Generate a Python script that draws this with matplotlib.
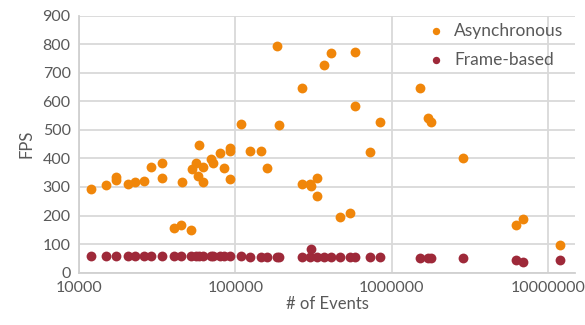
import matplotlib.pyplot as plt
from matplotlib.ticker import FixedLocator, NullLocator

# event counts and frame rates for the asynchronous pipeline
async_events = [11900, 14900, 17300, 17300, 20700, 22800, 25900, 28900, 34100, 34100,
                40500, 44900, 45400, 52000, 52500, 55700, 57400, 58200, 62100, 62100,
                69800, 72300, 79400, 85000, 92300, 92300, 92700, 108000, 124000, 145000,
                158000, 183000, 189000, 265000, 268000, 300000, 306000, 332000, 331000, 370000,
                410000, 469000, 543000, 579000, 579000, 729000, 837000, 1510000, 1710000, 1770000,
                2850000, 6170000, 6870000, 11900000]
async_fps = [293, 308, 336, 325, 310, 319, 322, 369, 383, 331,
             155, 166, 319, 148, 363, 383, 340, 447, 369, 318,
             398, 385, 418, 368, 437, 425, 327, 522, 427, 427,
             368, 793, 517, 648, 310, 310, 303, 331, 269, 727,
             768, 196, 208, 771, 583, 423, 529, 647, 541, 527,
             401, 167, 189, 96]

# same recordings, frame-based pipeline
frame_events = [11900, 14900, 17300, 20700, 22800, 25900, 28900, 34100, 40500, 44900,
                52000, 55700, 58200, 62100, 69800, 72300, 79400, 85000, 92300, 108000,
                124000, 145000, 158000, 183000, 189000, 265000, 300000, 306000, 332000, 370000,
                410000, 469000, 543000, 579000, 729000, 837000, 1510000, 1710000, 1770000, 2850000,
                6170000, 6870000, 11900000]
frame_fps = [57, 57, 57, 57, 57, 57, 57, 57, 57, 57,
             57, 57, 57, 57, 57, 57, 57, 57, 57, 57,
             56, 56, 56, 55, 56, 56, 56, 82, 56, 54,
             55, 56, 56, 55, 54, 54, 52, 52, 52, 52,
             45, 39, 44]

plt.rcParams['font.family'] = ['Lato', 'DejaVu Sans']
grey = '#595959'

fig = plt.figure(figsize=(5.85, 3.25), dpi=100)
ax = fig.add_axes([0.135, 0.161, 0.848, 0.791])

ax.scatter(async_events, async_fps, s=50, color='#F0860A', label='Asynchronous', zorder=3, linewidths=0)
ax.scatter(frame_events, frame_fps, s=50, color='#9E2939', label='Frame-based', zorder=3, linewidths=0)

ax.set_xscale('log')
ax.set_xlim(10000, 1.48e7)
ax.set_ylim(0, 900)
ax.xaxis.set_major_locator(FixedLocator([1e4, 1e5, 1e6, 1e7]))
ax.xaxis.set_minor_locator(NullLocator())
ax.set_xticklabels(['10000', '100000', '1000000', '10000000'])
ax.set_yticks(range(0, 1000, 100))

ax.grid(True, color='#D9D9D9', linewidth=1.3, zorder=0)
ax.set_axisbelow(True)
for side in ['top', 'right']:
    ax.spines[side].set_visible(False)
for side in ['left', 'bottom']:
    ax.spines[side].set_color('#D0D0D0')
    ax.spines[side].set_linewidth(1.3)
ax.tick_params(length=0, labelsize=11.5, labelcolor=grey, pad=6)

ax.set_xlabel('# of Events', fontsize=12, color=grey, labelpad=1)
ax.set_ylabel('FPS', fontsize=12, color=grey, labelpad=6)

leg = ax.legend(loc='upper right', frameon=False, fontsize=12.5, handletextpad=0.05,
                markerscale=0.75, borderaxespad=0.0, labelspacing=0.75, bbox_to_anchor=(0.99, 1.0))
for t in leg.get_texts():
    t.set_color(grey)

fig.savefig('out.png', dpi=100)
